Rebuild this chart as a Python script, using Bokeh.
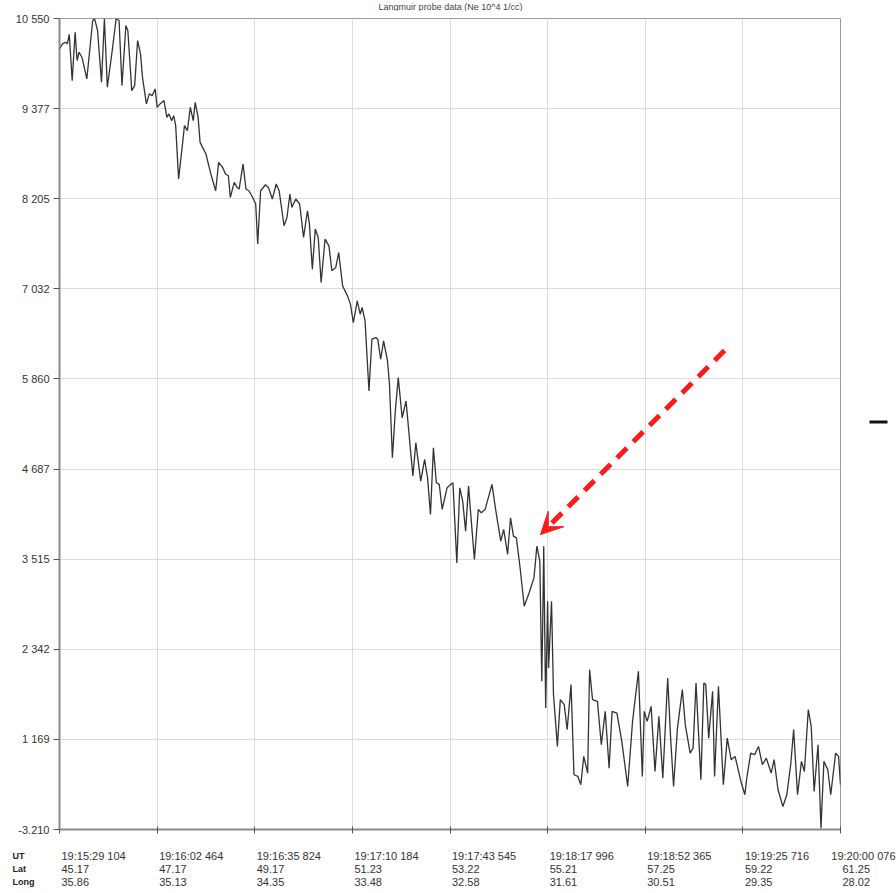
from bokeh.plotting import figure
from bokeh.layouts import column, row
from bokeh.models import Range1d, FixedTicker, Arrow, VeeHead
from bokeh.core.properties import value
from bokeh.embed import file_html
from bokeh.resources import INLINE

# ---- data -------------------------------------------------------------
sample = [0, 3, 6, 8, 10, 13, 16, 18, 20, 23, 28, 34, 36, 39, 43, 46, 49, 54, 58, 61,
          64, 68, 70, 74, 77, 80, 83, 85, 89, 92, 95, 98, 100, 103, 107, 110, 112, 115, 117, 119,
          122, 126, 128, 131, 134, 137, 139, 142, 144, 150, 155, 160, 163, 167, 170, 173, 175, 179, 182, 184,
          188, 191, 194, 197, 201, 203, 206, 211, 214, 218, 222, 225, 230, 233, 236, 238, 242, 246, 250, 254,
          256, 259, 262, 265, 268, 272, 276, 279, 283, 286, 290, 295, 298, 301, 305, 308, 310, 313, 317, 320,
          324, 326, 329, 332, 336, 338, 341, 344, 347, 351, 355, 359, 362, 365, 370, 374, 377, 380, 383, 386,
          389, 392, 397, 401, 403, 407, 410, 413, 416, 419, 421, 425, 429, 432, 436, 443, 447, 452, 455, 459,
          462, 465, 468, 472, 476, 481, 486, 489, 492, 494, 495, 496, 498, 500, 501, 504, 506, 510, 513, 517,
          520, 524, 527, 531, 534, 537, 541, 543, 546, 551, 555, 559, 563, 566, 571, 576, 582, 587, 593, 597,
          599, 602, 606, 610, 614, 618, 623, 626, 629, 633, 638, 641, 646, 649, 652, 657, 660, 662, 665, 669,
          671, 675, 680, 684, 688, 692, 698, 702, 704, 708, 712, 716, 720, 724, 729, 732, 736, 741, 745, 749,
          752, 756, 760, 763, 767, 770, 773, 777, 780, 783, 787, 790, 795, 798, 800]
density = [10155, 10220, 10241, 10220, 10342, 9742, 10372, 10003, 10111, 10046, 9764, 10524, 10546, 10394, 9720, 10546, 9655, 10133, 10546, 10524,
           9677, 10459, 10394, 9612, 9677, 10263, 10090, 9785, 9439, 9569, 9547, 9634, 9394, 9439, 9482, 9264, 9308, 9221, 9286, 9156,
           8461, 8917, 9156, 9091, 9394, 9221, 9459, 9264, 8938, 8787, 8527, 8309, 8678, 8613, 8527, 8504, 8222, 8417, 8352, 8331,
           8657, 8331, 8309, 8244, 8136, 7615, 8309, 8387, 8352, 8201, 8396, 8309, 7853, 7961, 8266, 8092, 8201, 8136, 7701, 8048,
           7875, 7289, 7810, 7701, 7114, 7680, 7592, 7267, 7310, 7505, 7071, 6941, 6833, 6593, 6876, 6702, 6789, 6615, 5703, 6377,
           6398, 6377, 6116, 6355, 6094, 5791, 4834, 5443, 5877, 5355, 5573, 5009, 4596, 5030, 4531, 4813, 4574, 4097, 4965, 4509,
           4488, 4162, 4443, 4488, 4509, 3466, 4443, 4270, 3879, 4466, 4140, 3511, 4162, 4118, 4162, 4488, 4140, 3749, 3901, 3576,
           4053, 3814, 3792, 3380, 2902, 3075, 3271, 3684, 3488, 1925, 2707, 3684, 1577, 2967, 2098, 2967, 1752, 1078, 1687, 1621,
           1296, 1882, 709, 687, 579, 948, 730, 2077, 1687, 1664, 1100, 1534, 795, 1534, 1512, 1143, 557, 1404, 2055, 687,
           1534, 1404, 1599, 752, 1469, 665, 1968, 1186, 557, 1317, 1817, 1361, 991, 1056, 1903, 644, 1903, 1882, 1186, 1795,
           687, 1860, 579, 1186, 905, 948, 622, 449, 665, 991, 970, 1078, 840, 926, 730, 905, 514, 296, 449, 840,
           1296, 449, 883, 752, 1556, 1339, 492, 1100, 14, 883, 774, 449, 991, 948, 579]

y_ticks = [10550, 9377.4, 8204.8, 7032.3, 5859.7, 4687.1, 3514.5, 2342.0, 1169.4, -3.21]
y_tick_labels = ["10 550", "9 377", "8 205", "7 032", "5 860", "4 687", "3 515", "2 342", "1 169", "-3.210"]

x_ticks = [0, 100, 200, 300, 400, 500, 600, 700, 800]
ut_labels = ["19:15:29 104", "19:16:02 464", "19:16:35 824", "19:17:10 184", "19:17:43 545",
             "19:18:17 996", "19:18:52 365", "19:19:25 716", "19:20:00 076"]
lat_labels = ["45.17", "47.17", "49.17", "51.23", "53.22", "55.21", "57.25", "59.22", "61.25"]
long_labels = ["35.86", "35.13", "34.35", "33.48", "32.58", "31.61", "30.51", "29.35", "28.02"]
row_names = ["UT", "Lat", "Long"]

title_text = "Langmuir probe data (Ne 10^4 1/cc)"

# ---- geometry ---------------------------------------------------------
Y0, Y1 = -3.21, 10550
X0, X1 = 0, 800
FONT = "Liberation Sans"
FRAME_W, FRAME_H = 781, 811
ppx = (X1 - X0) / FRAME_W          # data units per screen pixel (x)
ppy = (Y1 - Y0) / FRAME_H          # data units per screen pixel (y)
full_x = Range1d(X0 - 59 * ppx, X0 + (896 - 59) * ppx)   # x range spanning the whole window


def bare(w, h, xr, yr):
    f = figure(width=w, height=h, output_backend="svg", toolbar_location=None,
               x_range=xr, y_range=yr,
               min_border_left=0, min_border_right=0, min_border_top=0, min_border_bottom=0)
    f.axis.visible = False
    f.grid.visible = False
    f.outline_line_color = None
    f.background_fill_color = "white"
    f.border_fill_color = "white"
    return f


# ---- top strip: title -------------------------------------------------
TOP_H = 11
t = bare(896, TOP_H, full_x, Range1d(TOP_H, 0))
t.text(x=[X0 + (450 - 59) * ppx], y=[0.5], text=[title_text],
       text_font=value(FONT), text_font_size="9px", text_color="#444444",
       text_align="center", text_baseline="top")

# ---- main plot --------------------------------------------------------
P_TOP, P_BOT, P_RIGHT = 18 - TOP_H, 12, 2
p = figure(width=59 + FRAME_W + P_RIGHT, height=P_TOP + FRAME_H + P_BOT,
           output_backend="svg", toolbar_location=None,
           x_range=Range1d(X0, X1), y_range=Range1d(Y0, Y1),
           min_border_left=59, min_border_right=P_RIGHT,
           min_border_top=P_TOP, min_border_bottom=P_BOT)
p.background_fill_color = "white"
p.border_fill_color = "white"
p.outline_line_color = "#9a9a9a"
p.outline_line_width = 1

p.yaxis.ticker = FixedTicker(ticks=y_ticks)
p.yaxis.major_label_overrides = {t_: l for t_, l in zip(y_ticks, y_tick_labels)}
p.yaxis.major_label_text_font = FONT
p.yaxis.major_label_text_font_size = "11px"
p.yaxis.major_label_text_color = "#333333"
p.yaxis.major_label_standoff = 4
p.yaxis.major_tick_out = 6
p.yaxis.major_tick_in = 0
p.yaxis.minor_tick_line_color = None
p.yaxis.axis_line_color = "#8a8a8a"
p.yaxis.axis_line_width = 2
p.yaxis.major_tick_line_color = "#555555"

p.xaxis.ticker = FixedTicker(ticks=x_ticks)
p.xaxis.major_label_overrides = {t_: "" for t_ in x_ticks}
p.xaxis.major_label_text_font_size = "0px"
p.xaxis.major_label_standoff = 0
p.xaxis.major_tick_out = 4
p.xaxis.major_tick_in = 3
p.xaxis.minor_tick_line_color = None
p.xaxis.axis_line_color = "#8a8a8a"
p.xaxis.axis_line_width = 2
p.xaxis.major_tick_line_color = "#555555"

p.grid.grid_line_color = "#dcdcdc"
p.grid.grid_line_width = 1

p.line(sample, density, line_color="#333333", line_width=1.3)

p.add_layout(Arrow(x_start=X0 + (724 - 59) * ppx, y_start=Y1 - (350 - 18) * ppy,
                   x_end=X0 + (540 - 59) * ppx, y_end=Y1 - (534 - 18) * ppy,
                   line_color="#ff1a1a", line_width=5, line_dash="14 9",
                   end=VeeHead(size=22, fill_color="#ff1a1a", line_color="#ff1a1a", line_width=1)))

# ---- right strip: small black dash ------------------------------------
R_W = 896 - p.width
r = bare(R_W, p.height, Range1d(0, R_W), Range1d(p.height, 0))
r.segment(x0=[869 - (896 - R_W)], y0=[424 - TOP_H], x1=[887 - (896 - R_W)], y1=[424 - TOP_H],
          line_color="#111111", line_width=3)

# ---- bottom strip: UT / Lat / Long rows -------------------------------
B_TOP = TOP_H + p.height
B_H = 893 - B_TOP
b = bare(896, B_H, full_x, Range1d(B_H, 0))
row_px = [855, 868, 881]
xs, ys, txt, aligns = [], [], [], []
for rr, labels in enumerate([ut_labels, lat_labels, long_labels]):
    for i, (tk, lab) in enumerate(zip(x_ticks, labels)):
        last_wide = (i == len(x_ticks) - 1 and rr == 0)
        xs.append(X0 + (895 - 59) * ppx if last_wide else tk + 2 * ppx)
        ys.append(row_px[rr] - B_TOP)
        txt.append(lab)
        aligns.append("right" if last_wide else "left")
b.text(x=xs, y=ys, text=txt, text_font=value(FONT), text_font_size="11px",
       text_color="#333333", text_align=aligns, text_baseline="middle")
b.text(x=[X0 - 47 * ppx] * 3, y=[v - B_TOP for v in row_px], text=row_names,
       text_font=value(FONT), text_font_size="9px", text_font_style="bold",
       text_color="#222222", text_align="left", text_baseline="middle")

layout = column(t, row(p, r), b)
open("out.html", "w").write(file_html(layout, INLINE))
